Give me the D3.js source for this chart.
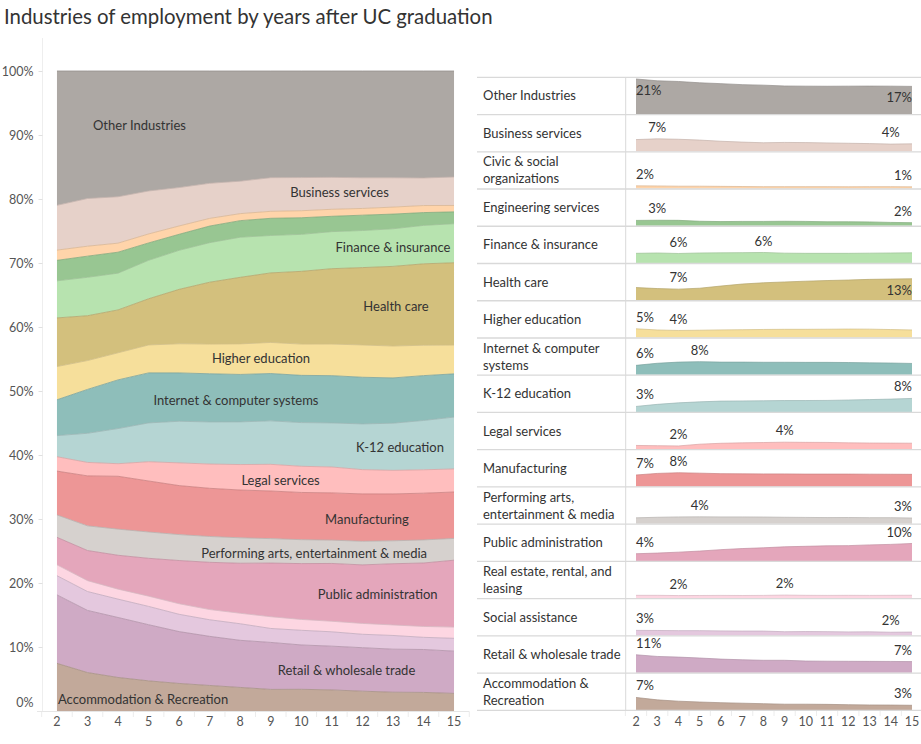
<!DOCTYPE html>
<html><head><meta charset="utf-8">
<script src="https://cdn.jsdelivr.net/npm/d3@7"></script>
<style>
body{margin:0;background:#fff;}
text{font-family:Lato,"Open Sans",sans-serif;}
</style>
</head><body>
<svg id="c" width="921" height="744"></svg>
<script>
// ---------- DATA ----------
const years = [2,3,4,5,6,7,8,9,10,11,12,13,14,15];
const yTicks = [0,0.1,0.2,0.3,0.4,0.5,0.6,0.7,0.8,0.9,1.0];

// values in % of graduates, by years after graduation
const accommodation = [7.45,6.0,5.2,4.7,4.3,4.0,3.7,3.4,3.4,3.3,3.1,2.95,2.9,2.75];
const retail        = [10.7,9.7,9.3,8.75,8.1,7.7,7.4,7.4,6.95,6.85,6.8,6.75,6.7,6.6];
const social        = [3.0,2.95,2.85,2.85,2.7,2.6,2.6,2.2,2.3,2.25,2.1,2.15,1.9,2.0];
const realEstate    = [1.7,1.7,1.55,1.6,1.65,1.6,1.65,1.85,1.7,1.65,1.7,1.65,1.7,1.75];
const publicAdmin   = [4.3,4.7,5.25,5.9,6.75,7.4,7.85,8.45,8.75,9.05,9.15,9.6,9.9,10.45];
const performing    = [3.5,3.85,4.05,4.1,4.05,4.05,4.0,3.85,3.75,3.65,3.7,3.6,3.6,3.4];
const manufacturing = [6.85,7.8,8.2,7.95,7.65,7.55,7.5,7.5,7.4,7.4,7.4,7.35,7.3,7.25];
const legal         = [2.25,2.1,1.95,3.0,3.55,3.8,4.0,4.2,4.1,4.05,3.8,3.7,3.65,3.6];
const k12           = [3.3,4.55,5.45,6.05,6.5,6.6,6.7,6.85,6.85,6.9,7.15,7.4,7.7,8.1];
const internet      = [5.6,6.85,7.55,7.8,7.55,7.55,7.45,7.45,7.4,7.4,7.3,7.1,7.0,6.75];
const higherEd      = [5.2,4.5,4.2,4.35,4.55,4.65,4.8,4.9,4.9,4.95,5.05,5.0,4.75,4.5];
const health        = [7.6,7.0,6.65,7.2,8.5,9.7,10.45,10.95,11.4,11.8,12.1,12.5,12.7,12.85];
const finance       = [5.8,6.0,5.7,6.0,6.1,6.2,6.3,5.9,5.8,5.8,5.8,5.9,6.0,6.1];
const engineering   = [3.2,3.3,3.25,2.7,2.5,2.6,2.6,2.7,2.6,2.4,2.4,2.3,2.0,1.85];
const civic         = [1.6,1.55,1.4,1.4,1.3,1.2,1.1,1.1,1.1,1.1,1.05,1.1,1.1,1.0];
const business      = [7.0,7.45,7.2,6.7,6.0,5.5,5.1,5.3,5.2,5.0,4.8,4.6,4.3,4.45];
const other         = [21.0,19.9,19.5,18.7,18.2,17.6,17.3,16.8,16.7,16.65,16.7,16.75,16.7,16.55];

// stack order, bottom to top
const seriesKeys = ["accommodation","retail","social","realEstate","publicAdmin","performing","manufacturing","legal","k12","internet","higherEd","health","finance","engineering","civic","business","other"];
const seriesNames = ["Accommodation & Recreation","Retail & wholesale trade","Social assistance","Real estate, rental, and leasing","Public administration","Performing arts, entertainment & media","Manufacturing","Legal services","K-12 education","Internet & computer systems","Higher education","Health care","Finance & insurance","Engineering services","Civic & social organizations","Business services","Other Industries"];
const rowLabels = ["Accommodation &|Recreation","Retail & wholesale trade","Social assistance","Real estate, rental, and|leasing","Public administration","Performing arts,|entertainment & media","Manufacturing","Legal services","K-12 education","Internet & computer|systems","Higher education","Health care","Finance & insurance","Engineering services","Civic & social|organizations","Business services","Other Industries"];
const seriesColors = ["#c2a99a","#cfaac5","#e4c8de","#fdd6e2","#e4a6bb","#d6d1ce","#ed9696","#ffbebe","#b5d5d3","#8ebeba","#f6df9b","#d3c07d","#b7e3af","#98c692","#ffd4aa","#e6d1c9","#ada8a4"];
// in-area labels of the left chart: [series key, year position, position within band]
const areaLabels = [["other",4.7,0.55],["business",11.25,0.52],["finance",13,0.5],["health",13.1,0.5],["higherEd",8.68,0.5],["internet",7.86,0.45],["k12",13.23,0.48],["legal",9.32,0.42],["manufacturing",12.15,0.47],["performing",10.42,0.44],["publicAdmin",12.5,0.5],["retail",11.48,0.45],["accommodation",4.82,0.36]];

const valuesByKey = {accommodation,retail,social,realEstate,publicAdmin,performing,manufacturing,legal,k12,internet,higherEd,health,finance,engineering,civic,business,other};

// ---------- CHART ----------
const svg = d3.select("#c");
const txt = "#333";
const axisTxt = "#555";

svg.append("text").attr("x",4).attr("y",24).attr("font-size",20.4).attr("fill","#333")
  .text("Industries of employment by years after UC graduation");

const table = years.map((yr,i)=>{const o={year:yr}; seriesKeys.forEach(k=>o[k]=valuesByKey[k][i]); return o;});
const stacked = d3.stack().keys(seriesKeys).offset(d3.stackOffsetExpand)(table);

// Left chart
const x = d3.scalePoint().domain(years).range([41.7,469.3]).padding(0.5);
const y = d3.scaleLinear().domain([0,1]).range([711,71]);
const step = x.step();

const gL = svg.append("g");
gL.append("line").attr("x1",42.5).attr("x2",42.5).attr("y1",38).attr("y2",711).attr("stroke","#eeeeee");

const area = d3.area().x(d=>x(d.data.year)).y0(d=>y(d[0])).y1(d=>y(d[1]));
const topLine = d3.line().x(d=>x(d.data.year)).y(d=>y(d[1]));
stacked.forEach((s,i)=>{
  gL.append("path").attr("d",area(s)).attr("fill",seriesColors[i]);
});
stacked.forEach((s,i)=>{
  gL.append("path").attr("d",topLine(s)).attr("fill","none")
    .attr("stroke",d3.color(seriesColors[i]).darker(0.45)).attr("stroke-width",1).attr("stroke-opacity",0.8);
});

// y axis
const yAxis = d3.axisLeft(y).tickValues(yTicks).tickFormat(d3.format(".0%")).tickSize(4).tickPadding(5);
const ga = gL.append("g").attr("transform","translate(42.5,0)").call(yAxis);
ga.select(".domain").remove();
ga.selectAll(".tick line").attr("stroke","#e0e0e0");
ga.selectAll(".tick text").attr("fill",axisTxt).attr("font-size",12.5).attr("font-family","Lato,sans-serif")
  .attr("dy",d=>d===0?"-0.4em":"0.32em");

// x axis left
gL.append("line").attr("x1",37).attr("x2",469.5).attr("y1",711.5).attr("y2",711.5).attr("stroke","#e6e6e6");
years.forEach((yr,i)=>{
  gL.append("text").attr("x",x(yr)).attr("y",726).attr("text-anchor","middle")
    .attr("font-size",12.5).attr("fill",axisTxt).text(yr);
});
d3.range(years.length+1).forEach(i=>{
  const xx = 41.7 + i*step;
  gL.append("line").attr("x1",xx).attr("x2",xx).attr("y1",712).attr("y2",717).attr("stroke","#ececec");
});

// area labels
function interpAt(s, pos, f){
  const i0 = Math.max(0, Math.min(years.length-2, Math.floor(pos-years[0])));
  const t = pos - years[i0];
  const a = s[i0], b = s[i0+1];
  const lo = a[0] + (b[0]-a[0])*t, hi = a[1] + (b[1]-a[1])*t;
  return lo + (hi-lo)*f;
}
areaLabels.forEach(([k,pos,f])=>{
  const idx = seriesKeys.indexOf(k);
  const mid = interpAt(stacked[idx], pos, f);
  const px = x(years[0]) + (pos-years[0])*step;
  gL.append("text").attr("x",px).attr("y",y(mid)).attr("dy","0.35em").attr("text-anchor","middle")
    .attr("font-size",13).attr("fill",txt).text(seriesNames[idx]);
});

// Right panel
const gR = svg.append("g");
const xr = d3.scalePoint().domain(years).range([625.4,922.6]).padding(0.5);
const rTop = 77.3, rowH = 37.24;
const nRows = seriesKeys.length;
const yMax = 22.3;
const order = seriesKeys.map((k,i)=>i).reverse(); // top row = last in stack

gR.append("line").attr("x1",477).attr("x2",921).attr("y1",rTop).attr("y2",rTop).attr("stroke","#d9d9d9").attr("stroke-width",1.3);
order.forEach((si,r)=>{
  const top = rTop + r*rowH, bot = top + rowH;
  const yr = d3.scaleLinear().domain([0,yMax]).range([bot-0.5, bot-0.5-rowH]);
  const vals = valuesByKey[seriesKeys[si]];
  const pts = years.map((yy,i)=>({year:yy,v:vals[i]}));
  gR.append("path").attr("d",d3.area().x(d=>xr(d.year)).y0(bot-0.5).y1(d=>yr(d.v))(pts)).attr("fill",seriesColors[si]);
  gR.append("path").attr("d",d3.line().x(d=>xr(d.year)).y(d=>yr(d.v))(pts)).attr("fill","none")
    .attr("stroke",d3.color(seriesColors[si]).darker(0.45)).attr("stroke-opacity",0.7);
  // min/max labels
  const iMin = d3.minIndex(vals), iMax = d3.maxIndex(vals);
  [iMax,iMin].forEach(ii=>{
    const py = yr(vals[ii]);
    let cy = py - 11.5;
    if (cy - 6 < top + 1) cy = py + 11.5;
    const anchor = ii===0 ? "start" : (ii===years.length-1 ? "end" : "middle");
    gR.append("text").attr("x",xr(years[ii])).attr("y",cy).attr("dy","0.35em").attr("text-anchor",anchor)
      .attr("font-size",13).attr("fill",txt).text(d3.format(".0f")(vals[ii])+"%");
  });
  // row label
  const lines = rowLabels[si].split("|");
  const cyL = top + rowH/2;
  lines.forEach((ln,li)=>{
    gR.append("text").attr("x",483).attr("y",cyL + (li-(lines.length-1)/2)*17).attr("dy","0.35em")
      .attr("font-size",13).attr("fill",txt).text(ln);
  });
  gR.append("line").attr("x1",477).attr("x2",921).attr("y1",bot).attr("y2",bot).attr("stroke","#d9d9d9").attr("stroke-width",1.3);
});
gR.append("line").attr("x1",625.7).attr("x2",625.7).attr("y1",rTop).attr("y2",rTop+nRows*rowH).attr("stroke","#d9d9d9");
years.forEach(yy=>{
  gR.append("text").attr("x",xr(yy)).attr("y",726).attr("text-anchor","middle")
    .attr("font-size",12.5).attr("fill",axisTxt).text(yy);
});
d3.range(years.length+1).forEach(i=>{
  const xx = 625.4 + i*xr.step();
  gR.append("line").attr("x1",xx).attr("x2",xx).attr("y1",711).attr("y2",716).attr("stroke","#ececec");
});
</script>
</body></html>
